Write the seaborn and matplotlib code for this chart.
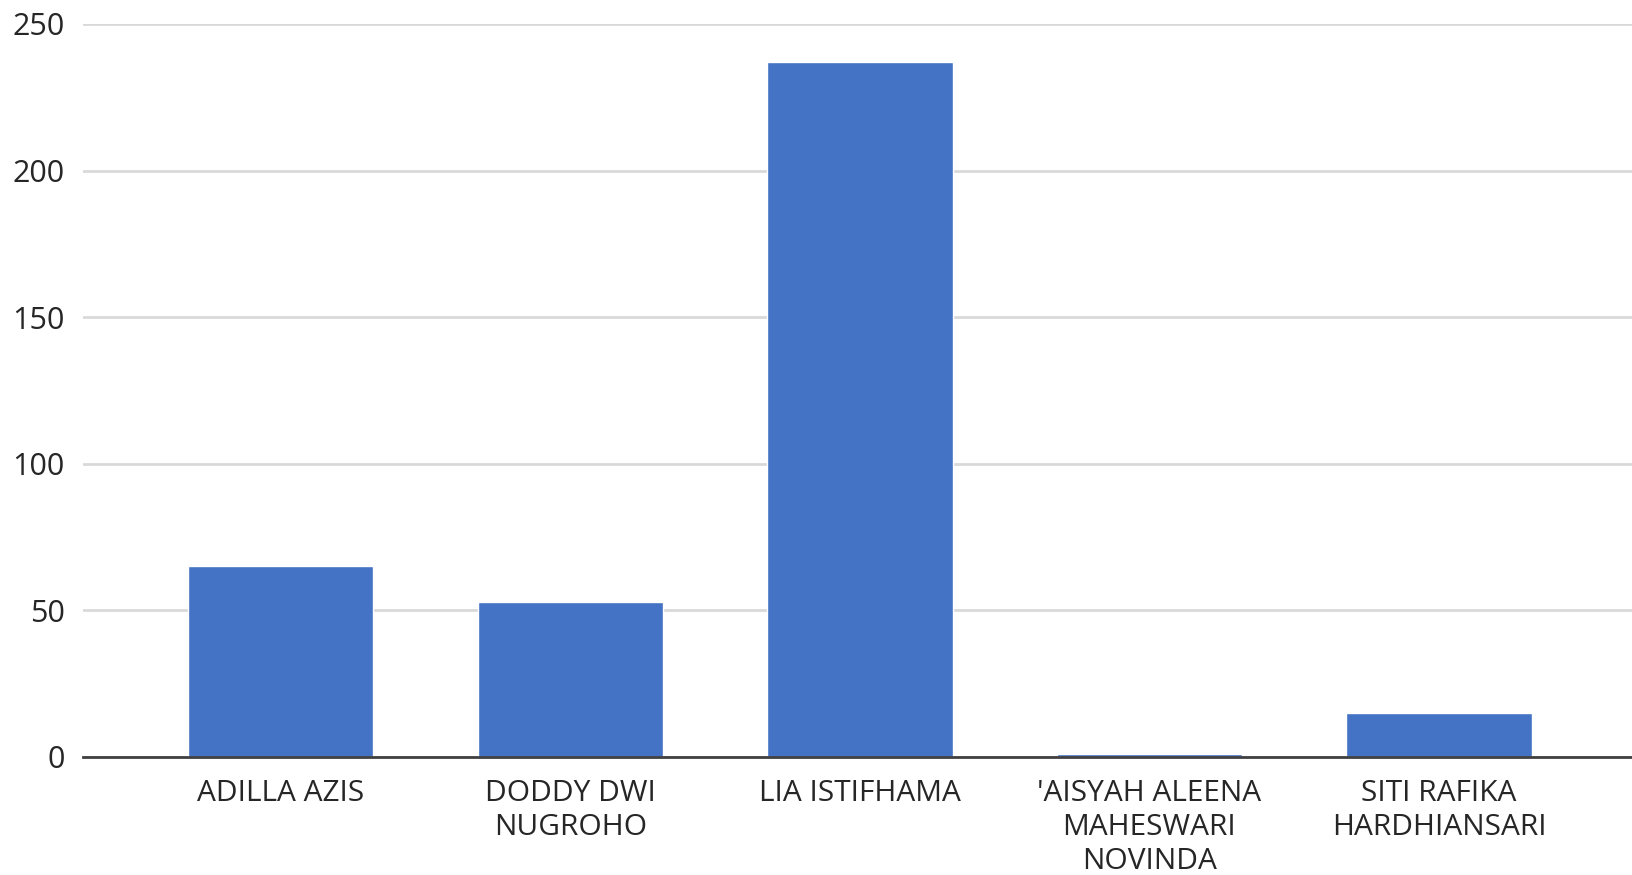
import matplotlib
matplotlib.use("Agg")
import matplotlib.pyplot as plt
import seaborn as sns
import pandas as pd

# Data
names = [
    "ADILLA AZIS",
    "DODDY DWI\nNUGROHO",
    "LIA ISTIFHAMA",
    "'AISYAH ALEENA\nMAHESWARI\nNOVINDA",
    "SITI RAFIKA\nHARDHIANSARI",
]
votes = [65, 53, 237, 1, 15]
y_ticks = [0, 50, 100, 150, 200, 250]

sns.set_theme(style="white")
plt.rcParams["font.family"] = ["Open Sans", "DejaVu Sans"]

df = pd.DataFrame({"name": names, "votes": votes})

fig = plt.figure(figsize=(16.33, 8.75), dpi=100)
ax = fig.add_axes([0.0508, 0.1349, 0.9492, 0.8377])

sns.barplot(data=df, x="name", y="votes", color="#4472C4", saturation=1,
            width=0.64, ax=ax, zorder=3)

ax.set_ylim(0, 250)
ax.set_xlim(-0.683, 4.67)
ax.set_yticks(y_ticks)
ax.set_xlabel("")
ax.set_ylabel("")

# horizontal gridlines
ax.yaxis.grid(True, color="#d9d9d9", linewidth=2, zorder=0)
ax.xaxis.grid(False)
for s in ["top", "right", "left"]:
    ax.spines[s].set_visible(False)
ax.spines["bottom"].set_color("#404040")
ax.spines["bottom"].set_linewidth(2)
ax.spines["bottom"].set_zorder(4)

ax.tick_params(axis="y", length=0, pad=13, labelsize=22, labelcolor="#262626")
ax.tick_params(axis="x", length=0, pad=16, labelsize=21.5, labelcolor="#262626")
for lbl in ax.get_xticklabels():
    lbl.set_linespacing(1.22)

fig.savefig("out.png", dpi=100)
